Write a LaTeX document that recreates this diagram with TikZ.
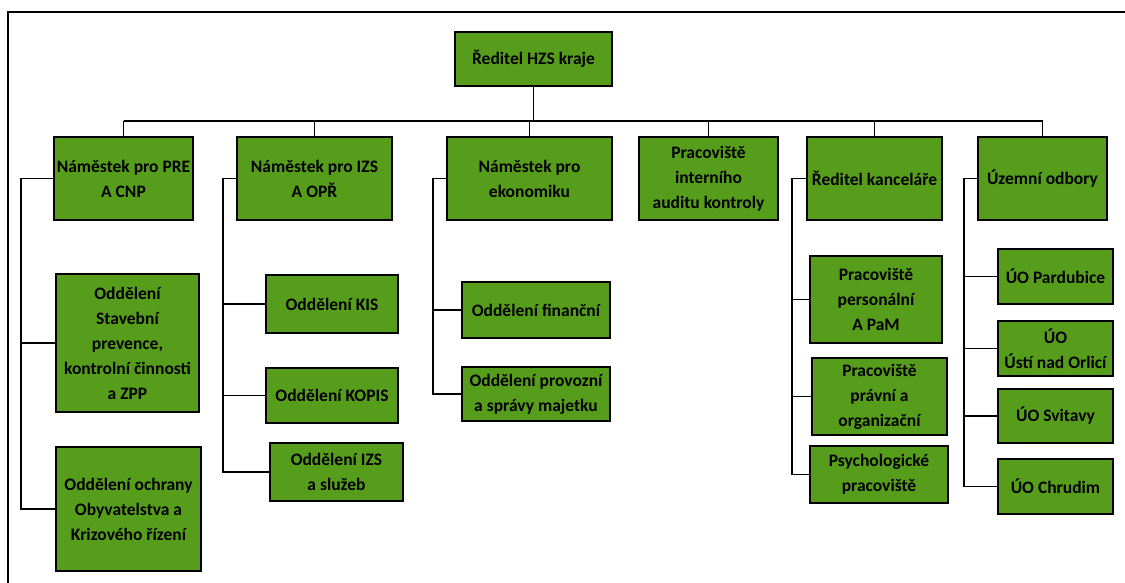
\documentclass[tikz,border=0pt]{standalone}
\usepackage{fontspec}
\setmainfont{Carlito}
\begin{document}
\begin{tikzpicture}[x=1pt,y=-1pt,
  box/.style={draw=black, line width=2.2pt, fill=boxgreen, inner sep=0pt, align=center,
    font=\bfseries\fontsize{17.5}{25}\selectfont, text=black},
  conn/.style={draw=black, line width=1.8pt}]
\definecolor{boxgreen}{RGB}{87,157,28}
\useasboundingbox (0,0) rectangle (1125,583);
% outer frame (partially visible)
\draw[line width=1.8pt] (8,583) -- (8,12) -- (1125,12);
% root
\node[box, minimum width=157pt, minimum height=54pt] (root) at (533.5,59) {Ředitel HZS kraje};
% level 1
\node[box, minimum width=139pt, minimum height=83pt] (n1) at (123.5,178.5) {Náměstek pro PRE\\A CNP};
\node[box, minimum width=155pt, minimum height=83pt] (n2) at (314.5,178.5) {Náměstek pro IZS\\A OPŘ};
\node[box, minimum width=165pt, minimum height=83pt] (n3) at (529.5,178.5) {Náměstek pro\\ekonomiku};
\node[box, minimum width=139pt, minimum height=83pt] (n4) at (708.5,178.5) {Pracoviště\\interního\\auditu kontroly};
\node[box, minimum width=135pt, minimum height=83pt] (n5) at (874.5,178.5) {Ředitel kanceláře};
\node[box, minimum width=129pt, minimum height=83pt] (n6) at (1042.5,178.5) {Územní odbory};
% children of n1
\node[box, minimum width=143pt, minimum height=138pt] (c11) at (127.5,343) {Oddělení\\Stavební\\prevence,\\kontrolní činnosti\\a ZPP};
\node[box, minimum width=145pt, minimum height=124pt] (c12) at (128.5,509) {Oddělení ochrany\\Obyvatelstva a\\Krizového řízení};
% children of n2
\node[box, minimum width=132pt, minimum height=58pt] (c21) at (332,304) {Oddělení KIS};
\node[box, minimum width=132pt, minimum height=55pt] (c22) at (332,395.5) {Oddělení KOPIS};
\node[box, minimum width=133pt, minimum height=58pt] (c23) at (336.5,472) {Oddělení IZS\\a služeb};
% children of n3
\node[box, minimum width=148pt, minimum height=56pt] (c31) at (536,310) {Oddělení finanční};
\node[box, minimum width=148pt, minimum height=54pt] (c32) at (536,394) {Oddělení provozní\\a správy majetku};
% children of n5
\node[box, minimum width=132pt, minimum height=87pt] (c51) at (876,299.5) {Pracoviště\\personální\\A PaM};
\node[box, minimum width=135pt, minimum height=77pt] (c52) at (879.5,396.5) {Pracoviště\\právní a\\organizační};
\node[box, minimum width=138pt, minimum height=57pt] (c53) at (879,474.5) {Psychologické\\pracoviště};
% children of n6
\node[box, minimum width=115pt, minimum height=55pt] (c61) at (1055.5,276.5) {ÚO Pardubice};
\node[box, minimum width=115pt, minimum height=55pt] (c62) at (1055.5,348.5) {ÚO\\Ústí nad Orlicí};
\node[box, minimum width=115pt, minimum height=54pt] (c63) at (1055.5,416) {ÚO Svitavy};
\node[box, minimum width=115pt, minimum height=55pt] (c64) at (1055.5,486.5) {ÚO Chrudim};
% bus
\coordinate (busL) at (123.5,121);
\coordinate (busR) at (1042.5,121);
\draw[conn] (busL) -- (busR);
\draw[conn] (root.south) -- (root.south |- busL);
\foreach \n in {n1,n2,n3,n4,n5,n6} {\draw[conn] (\n.north) -- (\n.north |- busL);}
% trunks
\coordinate (t1) at (21,0);
\coordinate (t2) at (223,0);
\coordinate (t3) at (433,0);
\coordinate (t5) at (792,0);
\coordinate (t6) at (964,0);
\draw[conn] (n1.west) -- (n1.west -| t1) -- (c12.west -| t1) -- (c12.west);
\draw[conn] (c11.west -| t1) -- (c11.west);
\draw[conn] (n2.west) -- (n2.west -| t2) -- (c23.west -| t2) -- (c23.west);
\draw[conn] (c21.west -| t2) -- (c21.west);
\draw[conn] (c22.west -| t2) -- (c22.west);
\draw[conn] (n3.west) -- (n3.west -| t3) -- (c32.west -| t3) -- (c32.west);
\draw[conn] (c31.west -| t3) -- (c31.west);
\draw[conn] (n5.west) -- (n5.west -| t5) -- (c53.west -| t5) -- (c53.west);
\draw[conn] (c51.west -| t5) -- (c51.west);
\draw[conn] (c52.west -| t5) -- (c52.west);
\draw[conn] (n6.west) -- (n6.west -| t6) -- (c64.west -| t6) -- (c64.west);
\draw[conn] (c61.west -| t6) -- (c61.west);
\draw[conn] (c62.west -| t6) -- (c62.west);
\draw[conn] (c63.west -| t6) -- (c63.west);
\end{tikzpicture}
\end{document}
